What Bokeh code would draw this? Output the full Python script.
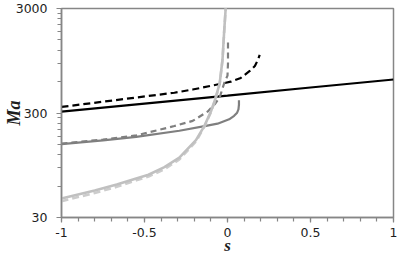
from bokeh.plotting import figure
from bokeh.models import FixedTicker, Range1d
from bokeh.embed import file_html
from bokeh.resources import INLINE

# ---- data ----
S_BLACK = [-1.0, -0.5, 0.0, 0.5, 1.0]
MA_BLACK = [309, 369, 440, 526, 628]

S_BLACK_DASH = [-1.0, -0.55, -0.32, -0.21, -0.09, 0.02, 0.08, 0.136, 0.165, 0.184, 0.194]
MA_BLACK_DASH = [343, 422, 469, 503, 550, 598, 650, 763, 846, 973, 1081]

S_GRAY = [-1.0, -0.75, -0.55, -0.29, -0.13, -0.06, 0.01, 0.04, 0.058, 0.066, 0.069, 0.069]
MA_GRAY = [151, 164, 177, 203, 226, 237, 261, 282, 302, 325, 360, 397]

S_GRAY_DASH = [-1.0, -0.75, -0.55, -0.32, -0.21, -0.12, -0.076, -0.047, -0.02, 0.0, 0.003, 0.003]
MA_GRAY_DASH = [153, 167, 183, 225, 252, 309, 365, 423, 578, 683, 900, 1550]

S_LIGHT = [-1.0, -0.8, -0.667, -0.55, -0.476, -0.38, -0.29, -0.19, -0.139, -0.1, -0.076,
           -0.047, -0.03, -0.02, -0.011, -0.006]
MA_LIGHT = [45.5, 54.5, 62, 71, 77, 91, 112, 165, 226, 310, 397, 578, 976, 1820, 3000, 4500]
MA_LIGHT_DASH = [43, 51.5, 59, 68, 74, 87, 108, 160, 222, 305, 390, 570, 965, 1800, 3000, 4500]

X_TICKS = [-1, -0.5, 0, 0.5, 1]
X_LABELS = ["-1", "-0.5", "0", "0.5", "1"]
X_MINOR = [round(-1 + 0.1 * i, 1) for i in range(21)]
Y_TICKS = [30, 300, 3000]
Y_LABELS = ["30", "300", "3000"]
Y_MINOR = [30 * k * 10 ** n for n in range(2) for k in range(2, 10)]

AXIS_COLOR = "#868686"
TEXT_COLOR = "#1e1e1e"

p = figure(width=399, height=257, title=None,
           x_range=Range1d(-1, 1), y_range=Range1d(30, 3000),
           y_axis_type="log", output_backend="svg", toolbar_location=None,
           min_border_left=20, min_border_right=6, min_border_top=8,
           min_border_bottom=20)

p.grid.visible = False
p.outline_line_color = AXIS_COLOR
p.outline_line_width = 1.5
p.background_fill_color = "white"
p.border_fill_color = "white"

p.line(S_BLACK, MA_BLACK, line_color="black", line_width=2.2)
p.line(S_BLACK_DASH, MA_BLACK_DASH, line_color="black", line_width=2.2,
       line_dash="7 4")
p.line(S_GRAY, MA_GRAY, line_color="#7f7f7f", line_width=2.2, line_join="round")
p.line(S_GRAY_DASH, MA_GRAY_DASH, line_color="#7f7f7f", line_width=2.2,
       line_dash="6 4")
p.line(S_LIGHT, MA_LIGHT_DASH, line_color="#cccccc", line_width=2.6,
       line_dash="7 4")
p.line(S_LIGHT, MA_LIGHT, line_color="#c0c0c0", line_width=2.6)

xa = p.xaxis[0]
xa.ticker = FixedTicker(ticks=X_TICKS, minor_ticks=X_MINOR)
xa.major_label_overrides = {t: l for t, l in zip(X_TICKS, X_LABELS)}
ya = p.yaxis[0]
ya.ticker = FixedTicker(ticks=Y_TICKS, minor_ticks=Y_MINOR)
ya.major_label_overrides = {t: l for t, l in zip(Y_TICKS, Y_LABELS)}

for ax in (xa, ya):
    ax.axis_line_color = AXIS_COLOR
    ax.axis_line_width = 1.5
    ax.major_tick_line_color = AXIS_COLOR
    ax.minor_tick_line_color = AXIS_COLOR
    ax.major_tick_line_width = 1.2
    ax.minor_tick_line_width = 1.2
    ax.major_tick_in = 0
    ax.major_tick_out = 5
    ax.minor_tick_in = 0
    ax.minor_tick_out = 4
    ax.major_label_text_font = "DejaVu Sans"
    ax.major_label_text_font_size = "12.5px"
    ax.major_label_text_color = TEXT_COLOR
    ax.axis_label_text_font = "Liberation Serif"
    ax.axis_label_text_font_style = "bold italic"
    ax.axis_label_text_color = TEXT_COLOR

ya.axis_label = "Ma"
ya.axis_label_text_font_size = "18px"
ya.major_label_standoff = 9
ya.axis_label_standoff = -11

xa.axis_label = "s"
xa.axis_label_text_font_size = "17px"
xa.major_label_standoff = 5
xa.axis_label_standoff = -4

open("out.html", "w").write(file_html(p, INLINE))
